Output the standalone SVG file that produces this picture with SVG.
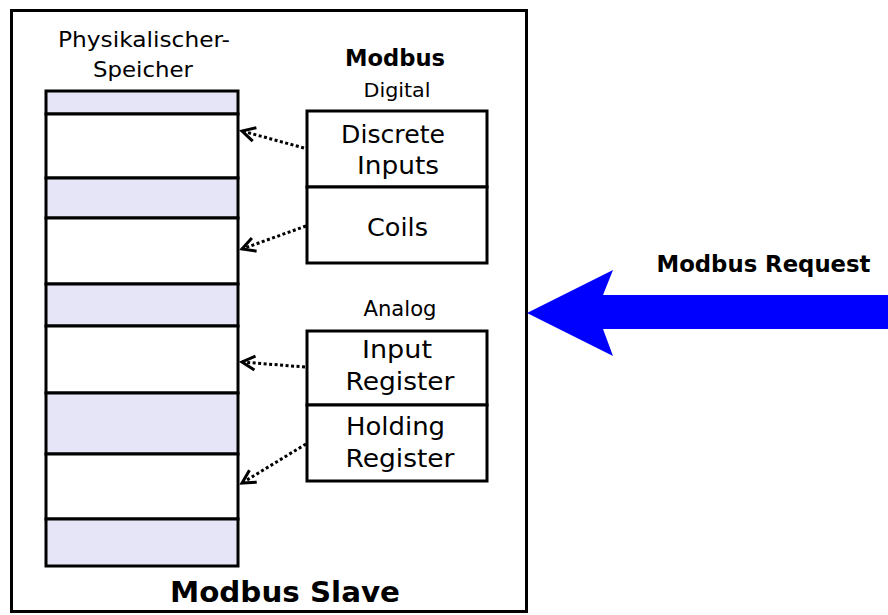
<svg xmlns="http://www.w3.org/2000/svg" width="888" height="615" viewBox="0 0 888 615">
<style>
.frame{fill:#fff;stroke:#000;stroke-width:3}
.lav{fill:#e5e5f7;stroke:#000;stroke-width:3}
.wht{fill:#fff;stroke:#000;stroke-width:3}
.box{fill:#fff;stroke:#000;stroke-width:3}
.t{font-family:"DejaVu Sans",sans-serif;fill:#000;text-anchor:middle}
.b{font-weight:bold}
.dot{fill:none;stroke:#000;stroke-width:3;stroke-dasharray:3 2.5;marker-end:url(#open)}
</style>
<defs>
<marker id="open" markerUnits="userSpaceOnUse" viewBox="-16 -10 19 20" refX="0" refY="0" markerWidth="19" markerHeight="20" orient="auto">
<path d="M-13,-7 L0,0 L-13,7" fill="none" stroke="#000" stroke-width="3" stroke-dasharray="none"/>
</marker>
</defs>
<rect width="888" height="615" fill="#fff"/>
<g id="slave">
<rect class="frame" x="11.5" y="10.5" width="515" height="601"/>
<text class="t b" x="285" y="602" font-size="28" textLength="230" lengthAdjust="spacingAndGlyphs">Modbus Slave</text>
</g>
<g id="memory">
<text class="t" x="144" y="47" font-size="21" textLength="172" lengthAdjust="spacingAndGlyphs">Physikalischer-</text>
<text class="t" x="143" y="77" font-size="21" textLength="100" lengthAdjust="spacingAndGlyphs">Speicher</text>
<rect class="lav" x="46" y="91" width="192" height="23"/>
<rect class="wht" x="46" y="114" width="192" height="64"/>
<rect class="lav" x="46" y="178" width="192" height="40"/>
<rect class="wht" x="46" y="218" width="192" height="66"/>
<rect class="lav" x="46" y="284" width="192" height="42"/>
<rect class="wht" x="46" y="326" width="192" height="67"/>
<rect class="lav" x="46" y="393" width="192" height="61"/>
<rect class="wht" x="46" y="454" width="192" height="65"/>
<rect class="lav" x="46" y="519" width="192" height="47"/>
</g>
<g id="digital">
<text class="t b" x="395" y="66" font-size="23" textLength="100" lengthAdjust="spacingAndGlyphs">Modbus</text>
<text class="t" x="397" y="97" font-size="20" textLength="67" lengthAdjust="spacingAndGlyphs">Digital</text>
<rect class="box" x="307" y="111" width="180" height="76"/>
<text class="t" x="393" y="143" font-size="24" textLength="104" lengthAdjust="spacingAndGlyphs">Discrete</text>
<text class="t" x="398" y="174" font-size="24" textLength="82" lengthAdjust="spacingAndGlyphs">Inputs</text>
<rect class="box" x="307" y="187" width="180" height="76"/>
<text class="t" x="397.5" y="236" font-size="24" textLength="61" lengthAdjust="spacingAndGlyphs">Coils</text>
</g>
<g id="analog">
<text class="t" x="400" y="316" font-size="20.5" textLength="73" lengthAdjust="spacingAndGlyphs">Analog</text>
<rect class="box" x="307" y="331" width="180" height="74"/>
<text class="t" x="397" y="358" font-size="24" textLength="70" lengthAdjust="spacingAndGlyphs">Input</text>
<text class="t" x="400" y="390" font-size="24" textLength="109" lengthAdjust="spacingAndGlyphs">Register</text>
<rect class="box" x="307" y="405" width="180" height="76"/>
<text class="t" x="395.5" y="435" font-size="24" textLength="99" lengthAdjust="spacingAndGlyphs">Holding</text>
<text class="t" x="400" y="467" font-size="24" textLength="109" lengthAdjust="spacingAndGlyphs">Register</text>
</g>
<g id="request">
<polygon points="527,313 613,270 603,295 888,295 888,329 603,329 613,356" fill="#0000ff"/>
<text class="t b" x="763.5" y="272" font-size="23" textLength="214" lengthAdjust="spacingAndGlyphs">Modbus Request</text>
</g>
<g id="connectors">
<line class="dot" x1="304" y1="148" x2="242" y2="131"/>
<line class="dot" x1="306" y1="226" x2="242" y2="249"/>
<line class="dot" x1="305" y1="367" x2="242" y2="362"/>
<line class="dot" x1="306" y1="444" x2="242" y2="483"/>
</g>
</svg>
